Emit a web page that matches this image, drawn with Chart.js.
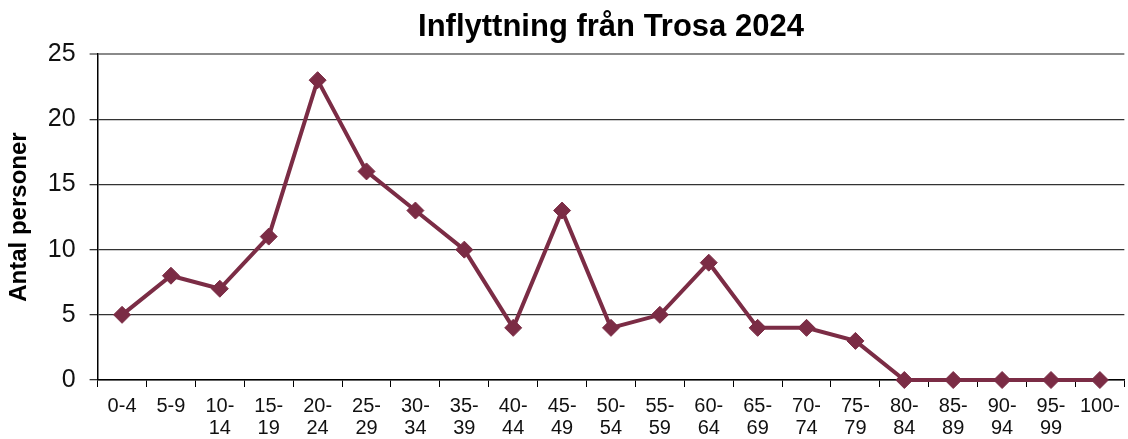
<!DOCTYPE html>
<html>
<head>
<meta charset="utf-8">
<script src="https://cdn.jsdelivr.net/npm/chart.js@4"></script>
<style>
  html, body { margin: 0; padding: 0; background: #fff; overflow: hidden; }
  #wrap { width: 1128px; height: 439px; }
</style>
</head>
<body>
<div id="wrap"><canvas id="chart" width="1128" height="439"></canvas></div>
<script>
// Åldersgrupper (x-axeln), flerradiga etiketter som i originalet
const ageGroups = [
    ['0-4'], ['5-9'], ['10-', '14'], ['15-', '19'], ['20-', '24'], ['25-', '29'],
    ['30-', '34'], ['35-', '39'], ['40-', '44'], ['45-', '49'], ['50-', '54'],
    ['55-', '59'], ['60-', '64'], ['65-', '69'], ['70-', '74'], ['75-', '79'],
    ['80-', '84'], ['85-', '89'], ['90-', '94'], ['95-', '99'], ['100-']
];

// Antal personer per åldersgrupp
const antalPersoner = [5, 8, 7, 11, 23, 16, 13, 10, 4, 13, 4, 5, 9, 4, 4, 3, 0, 0, 0, 0, 0];

// Y-axelns skala
const yMin = 0;
const yMax = 25;
const yStep = 5;

const lineColor = '#7B2C45';
const fontFamily = '"Liberation Sans", Arial, sans-serif';

const ctx = document.getElementById('chart').getContext('2d');
new Chart(ctx, {
    type: 'line',
    data: {
        labels: ageGroups,
        datasets: [{
            label: 'Inflyttning',
            data: antalPersoner,
            borderColor: lineColor,
            backgroundColor: lineColor,
            borderWidth: 4,
            pointStyle: 'rectRot',
            pointRadius: 8.5,
            pointHoverRadius: 8.5,
            pointBorderWidth: 1,
            tension: 0,
            fill: false,
            clip: false,
        }],
    },
    options: {
        responsive: false,
        animation: false,
        layout: { autoPadding: false, padding: { left: 5, right: 0, top: 6, bottom: 0 } },
        plugins: {
            legend: { display: false },
            tooltip: { enabled: false },
            title: {
                display: true,
                text: 'Inflyttning från Trosa 2024',
                fullSize: false,
                color: '#000',
                font: { family: fontFamily, size: 31, weight: 'bold', lineHeight: 1.1 },
                padding: { top: 4, bottom: 10 },
            },
        },
        scales: {
            x: {
                offset: true,
                grid: {
                    offset: true,
                    drawOnChartArea: false,
                    drawTicks: true,
                    tickLength: 7,
                    color: '#000',
                },
                border: { display: true, color: '#000', width: 1.5 },
                ticks: {
                    color: '#111',
                    font: { family: fontFamily, size: 20, lineHeight: 1.12 },
                    maxRotation: 0,
                    autoSkip: false,
                    padding: 8,
                },
                // x-axeln ska ta exakt 59 px under diagrammet
                afterFit: (scale) => { scale.height = 59; },
            },
            y: {
                min: yMin,
                max: yMax,
                grid: {
                    color: (c) => (c.tick && c.tick.value === yMax ? '#8a8a8a' : '#333'),
                    lineWidth: (c) => (c.tick && c.tick.value === yMax ? 2 : 1.3),
                    tickLength: 8,
                },
                border: { display: true, color: '#000', width: 1.5 },
                ticks: {
                    stepSize: yStep,
                    color: '#111',
                    font: { family: fontFamily, size: 25 },
                    padding: 14,
                },
                title: {
                    display: true,
                    text: 'Antal personer',
                    color: '#000',
                    font: { family: fontFamily, size: 24, weight: 'bold', lineHeight: 1.2 },
                    padding: { top: 0, bottom: 0 },
                },
            },
        },
    },
});
</script>
</body>
</html>
